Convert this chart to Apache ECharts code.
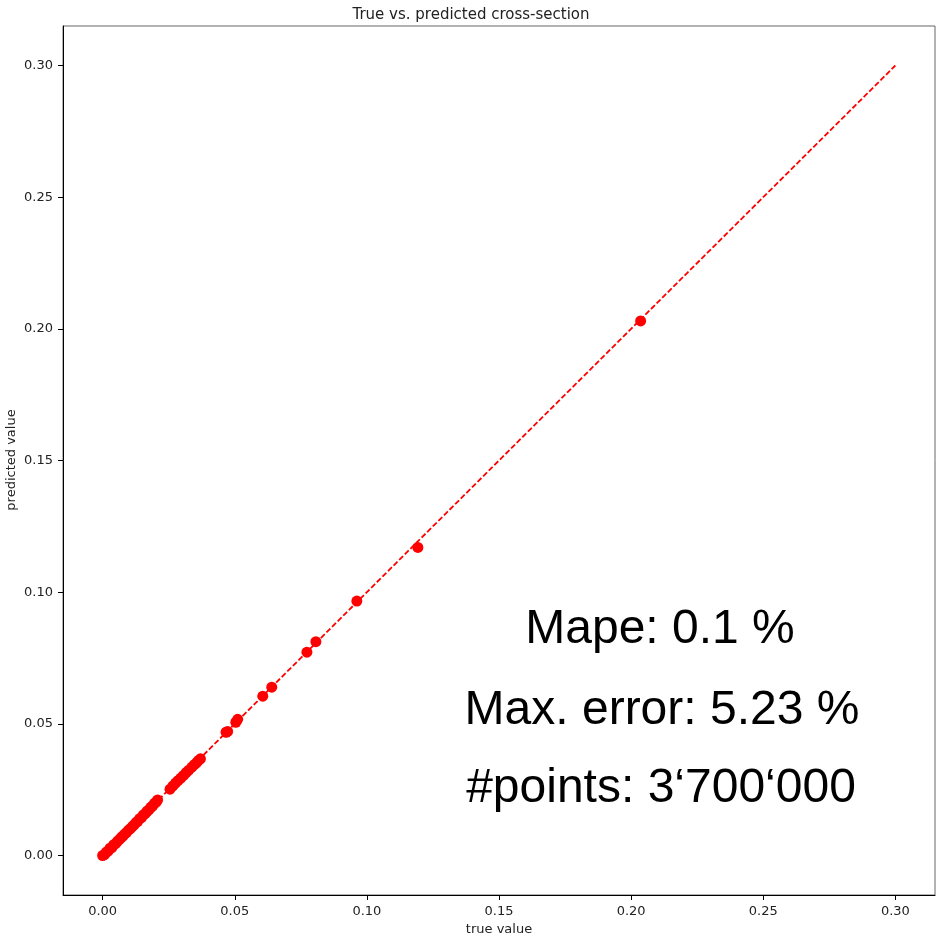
<!DOCTYPE html>
<html style="height: 100%">
    <head>
        <meta charset="utf-8">
    </head>
    <body style="height: 100%; margin: 0; background: #fff">
        <div id="container" style="height: 100%"></div>

        <script type="text/javascript" src="https://cdn.jsdelivr.net/npm/echarts@6/dist/echarts.min.js"></script>

        <script type="text/javascript">
var dom = document.getElementById("container");
var myChart = echarts.init(dom);

// ticks on both axes
var tickValues = [0, 0.05, 0.10, 0.15, 0.20, 0.25, 0.30];

// true values (x) and predicted values (y)
var trueValues = [
  0.0000, 0.0007, 0.0014, 0.0021, 0.0028, 0.0035, 0.0042, 0.0049, 0.0056, 0.0063,
  0.0070, 0.0077, 0.0084, 0.0091, 0.0098, 0.0105, 0.0112, 0.0119, 0.0126, 0.0133,
  0.0140, 0.0147, 0.0154, 0.0161, 0.0168, 0.0175, 0.0182, 0.0189, 0.0196, 0.0203,
  0.0208,
  0.0255, 0.0266, 0.0276, 0.0285, 0.0296, 0.0306, 0.0316, 0.0326, 0.0338, 0.0347,
  0.0355, 0.0362, 0.0370,
  0.0467, 0.0473, 0.0504, 0.0511, 0.0606, 0.0640, 0.0773, 0.0807, 0.0962, 0.1193,
  0.2036
];
var predictedValues = [
  0.0000, 0.0003, 0.0013, 0.0017, 0.0028, 0.0030, 0.0041, 0.0045, 0.0054, 0.0060,
  0.0068, 0.0074, 0.0082, 0.0088, 0.0096, 0.0102, 0.0110, 0.0116, 0.0125, 0.0130,
  0.0140, 0.0144, 0.0154, 0.0159, 0.0168, 0.0173, 0.0183, 0.0188, 0.0198, 0.0203,
  0.0211,
  0.0252, 0.0264, 0.0275, 0.0284, 0.0294, 0.0304, 0.0315, 0.0324, 0.0336, 0.0345,
  0.0352, 0.0360, 0.0367,
  0.0468, 0.0471, 0.0506, 0.0517, 0.0605, 0.0639, 0.0772, 0.0812, 0.0966, 0.1170,
  0.2030
];

// ideal diagonal
var diagonal = [[0, 0], [0.30, 0.30]];

var points = trueValues.map(function (v, i) {
  return [v, predictedValues[i]];
});

var tickFont = {
  fontFamily: 'DejaVu Sans',
  fontSize: 13,
  color: '#222'
};

var bigFont = '48px "Liberation Sans"';

var option = {
  backgroundColor: '#fff',
  animation: false,
  title: {
    text: 'True vs. predicted cross-section',
    left: 'center',
    top: 3,
    textStyle: {
      fontFamily: 'DejaVu Sans',
      fontSize: 15,
      fontWeight: 'normal',
      color: '#222'
    }
  },
  grid: {
    left: 63,
    right: 7,
    top: 26,
    bottom: 42,
    containLabel: false,
    outerBoundsMode: 'none',
    show: true,
    borderColor: '#666',
    borderWidth: 1
  },
  xAxis: {
    type: 'value',
    min: -0.015,
    max: 0.315,
    name: 'true value',
    nameLocation: 'middle',
    nameGap: 28,
    nameTextStyle: tickFont,
    axisLine: { show: true, onZero: false, lineStyle: { color: '#000', width: 1 } },
    axisTick: { show: true, length: 5, lineStyle: { color: '#000' }, customValues: tickValues },
    axisLabel: Object.assign({
      margin: 10,
      customValues: tickValues,
      formatter: function (v) { return v.toFixed(2); }
    }, tickFont),
    splitLine: { show: false }
  },
  yAxis: {
    type: 'value',
    min: -0.015,
    max: 0.315,
    axisLine: { show: true, onZero: false, lineStyle: { color: '#000', width: 1 } },
    axisTick: { show: true, length: 5, lineStyle: { color: '#000' }, customValues: tickValues },
    axisLabel: Object.assign({
      margin: 10,
      customValues: tickValues,
      formatter: function (v) { return v.toFixed(2); }
    }, tickFont),
    splitLine: { show: false }
  },
  graphic: [
    {
      // y axis title, kept clear of the tick labels like matplotlib does
      type: 'text',
      x: 12,
      y: 460,
      rotation: Math.PI / 2,
      style: {
        text: 'predicted value',
        font: '13px "DejaVu Sans"',
        fill: '#222',
        align: 'center',
        verticalAlign: 'middle'
      }
    },
    {
      type: 'text',
      x: 660,
      y: 630,
      style: { text: 'Mape: 0.1 %', font: bigFont, fill: '#000', align: 'center', verticalAlign: 'middle' }
    },
    {
      type: 'text',
      x: 662,
      y: 711,
      style: { text: 'Max. error: 5.23 %', font: bigFont, fill: '#000', align: 'center', verticalAlign: 'middle' }
    },
    {
      type: 'text',
      x: 661,
      y: 789,
      style: { text: '#points: 3\u2018700\u2018000', font: bigFont, fill: '#000', align: 'center', verticalAlign: 'middle' }
    }
  ],
  series: [
    {
      type: 'line',
      data: diagonal,
      showSymbol: false,
      symbol: 'none',
      lineStyle: { color: '#ff0000', width: 1.8, type: [5.5, 2.4] },
      z: 2
    },
    {
      type: 'scatter',
      data: points,
      symbol: 'circle',
      symbolSize: 11,
      itemStyle: { color: '#ff0000', opacity: 1 },
      z: 3
    }
  ]
};

myChart.setOption(option);
        </script>
    </body>
</html>
